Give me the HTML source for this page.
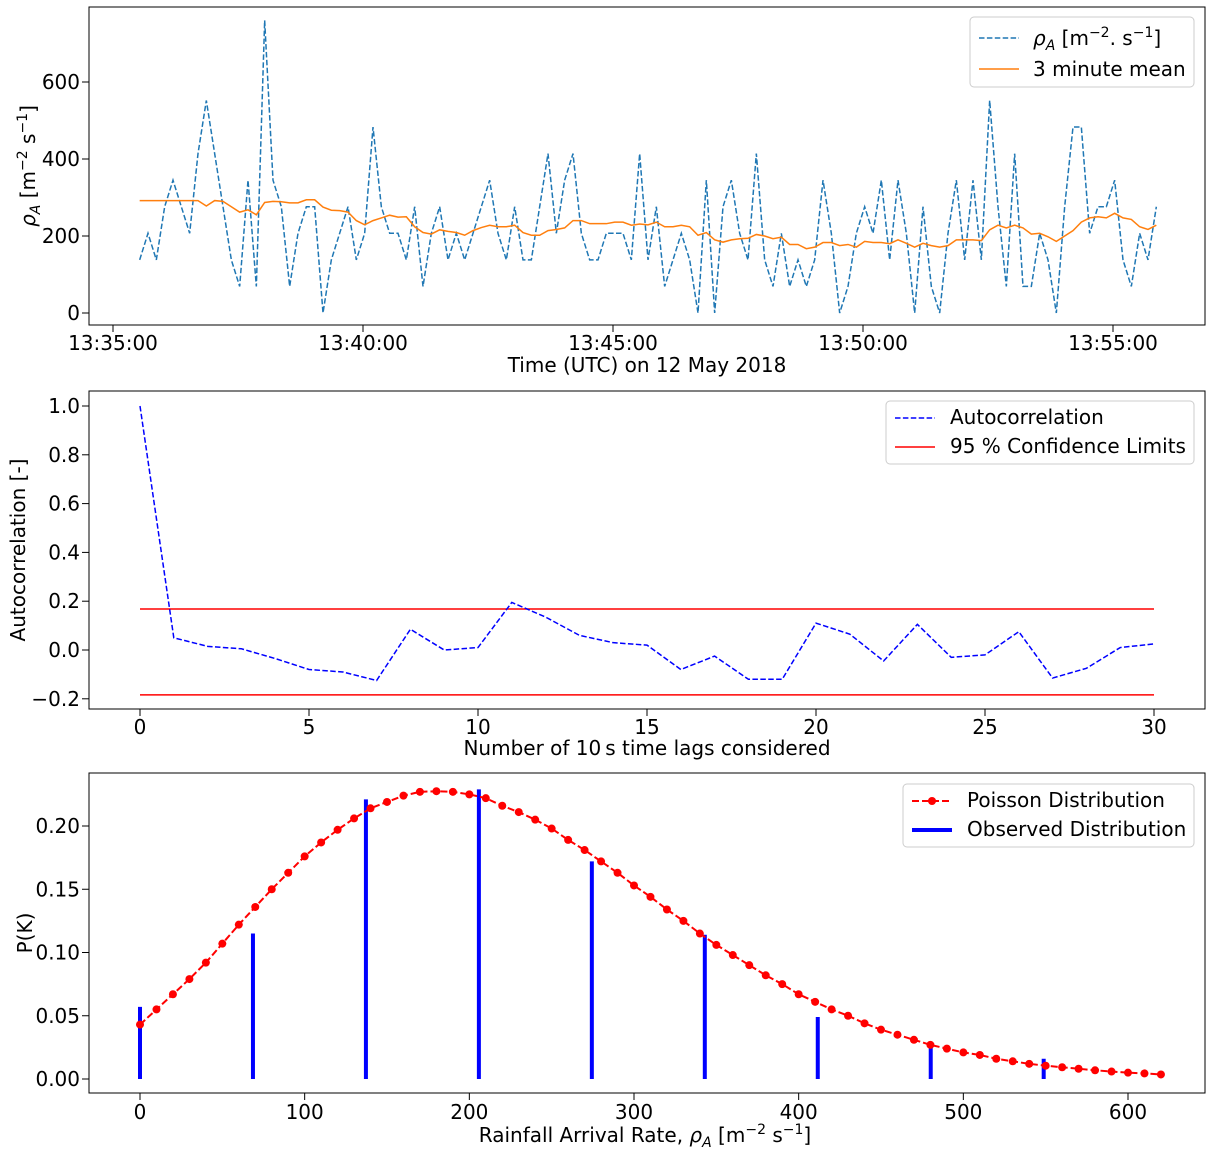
<!DOCTYPE html>
<html><head><meta charset="utf-8"><style>
html,body{margin:0;padding:0;background:#fff;}
svg{display:block;font-family:"DejaVu Sans","Liberation Sans",sans-serif;}
text{fill:#000;}
</style></head><body>
<svg id="fig" width="1217" height="1154" viewBox="0 0 1217 1154" xmlns="http://www.w3.org/2000/svg"></svg>
<script>
// ---- Panel 1 data ----
const rateValues = [138,207,138,276,345,276,207,414,552,414,276,138,69,345,69,760,345,276,69,207,276,276,0,138,207,276,138,207,483,276,
207,207,138,276,69,207,276,138,207,138,207,276,345,207,138,276,138,138,276,414,207,345,414,207,138,138,207,207,207,138,414,138,
276,69,138,207,138,0,345,0,276,345,207,138,414,138,69,207,69,138,69,138,345,207,0,69,207,276,207,345,138,
345,207,0,276,69,0,207,345,138,345,138,552,276,69,414,69,69,207,138,0,276,483,483,207,276,276,345,138,69,207,138,276];
const meanValues = [292,292,292,292,292,292,292,292,278,292,290,276,262,268,255,287,290,289,286,286,294,294,275,267,266,262,240,229,240,247,254,249,
250,224,209,205,216,212,209,202,214,222,228,224,224,228,209,202,202,214,217,221,240,240,232,232,232,236,236,228,231,229,
236,224,224,228,224,202,209,190,184,190,193,194,204,200,193,197,178,178,167,171,183,183,175,178,171,186,183,183,
180,190,181,171,181,175,171,175,190,190,190,188,216,228,221,228,221,205,207,198,186,200,214,236,247,250,247,259,247,243,224,217,228];
const startOffsetSec = 32;
const timeStepSec = 10;
const timeTickLabels = ["13:35:00","13:40:00","13:45:00","13:50:00","13:55:00"];
const timeTickSec = [0,300,600,900,1200];
const rateTicks = [0,200,400,600];
// ---- Panel 2 data ----
const acfValues = [1.0,0.05,0.015,0.005,-0.035,-0.08,-0.09,-0.125,0.085,0.0,0.01,0.195,0.135,0.06,0.03,0.02,-0.08,-0.025,-0.12,-0.12,0.11,0.065,-0.045,0.105,-0.03,-0.02,0.075,-0.115,-0.075,0.01,0.025];
const confUpper = 0.168;
const confLower = -0.184;
const lagTicks = [0,5,10,15,20,25,30];
const acfTicks = [-0.2,0,0.2,0.4,0.6,0.8,1.0];
// ---- Panel 3 data ----
const poissonX = [0,10,20,30,40,50,60,70,80,90,100,110,120,130,140,150,160,170,180,190,200,210,220,230,240,250,260,270,280,290,300,310,320,330,340,350,360,370,380,390,400,410,420,430,440,450,460,470,480,490,500,510,520,530,540,550,560,570,580,590,600,610,620];
const poissonP = [.043,.055,.067,.079,.092,.107,.122,.136,.150,.163,.176,.187,.197,.206,.214,.219,.224,.227,.2275,.227,.225,.222,.216,.211,.205,.198,.189,.181,.172,.163,.153,.144,.134,.125,.115,.106,.098,.090,.082,.075,.067,.061,.055,.050,.044,.039,.035,.031,.027,.024,.021,.019,.016,.014,.012,.0105,.0093,.0081,.0069,.0059,.0050,.0044,.0036];
const observedX = [0,68.6,137.2,205.8,274.4,343,411.6,480.2,548.8];
const observedP = [0.057,0.115,0.221,0.229,0.172,0.114,0.049,0.026,0.016];
const rateAxisTicks = [0,100,200,300,400,500,600];
const probTicks = [0,0.05,0.10,0.15,0.20];

const NS="http://www.w3.org/2000/svg";
const svg=document.getElementById('fig');
function el(tag,attrs,parent){const e=document.createElementNS(NS,tag);for(const k in attrs)e.setAttribute(k,attrs[k]);(parent||svg).appendChild(e);return e;}
function txt(s,x,y,anchor,parent){const t=el('text',{x:x,y:y,'text-anchor':anchor||'middle','font-size':'20'},parent);t.textContent=s;return t;}

function frame(g,x0,y0,x1,y1){const r=el('rect',{x:x0,y:y0,width:x1-x0,height:y1-y0,fill:'none',stroke:'#000','stroke-width':1},g);

}

// ===== Panel 1 =====
const g1=el('g',{});


const X1=s=>113+s*(1000/1200), Y1=v=>313-v*0.385;
frame(g1,89,7,1205,325);
const g1x=el('g',{},g1);


timeTickSec.forEach((s,i)=>{el('line',{x1:X1(s),x2:X1(s),y1:325,y2:332,stroke:'#000'},g1x);const t=txt(timeTickLabels[i],X1(s),350,'middle',g1x);

});
const g1y=el('g',{},g1);


rateTicks.forEach(v=>{el('line',{x1:82,x2:89,y1:Y1(v),y2:Y1(v),stroke:'#000'},g1y);const t=txt(String(v),80,Y1(v)+7,'end',g1y);

});
let t1=txt('Time (UTC) on 12 May 2018',647,372,'middle',g1);


let yl1=el('text',{transform:'translate(35,166) rotate(-90)','text-anchor':'middle','font-size':'20'},g1);
yl1.innerHTML='<tspan font-style="italic">ρ</tspan><tspan font-style="italic" font-size="14" dy="5">A</tspan><tspan dy="-5"> [m</tspan><tspan font-size="14" dy="-8">−2</tspan><tspan dy="8"> s</tspan><tspan font-size="14" dy="-8">−1</tspan><tspan dy="8">]</tspan>';


const p1=el('polyline',{points:rateValues.map((v,i)=>X1(startOffsetSec+i*timeStepSec)+','+Y1(v)).join(' '),fill:'none',stroke:'#1f77b4','stroke-width':1.5,'stroke-dasharray':'5.5,2.4'},g1);


const p2=el('polyline',{points:meanValues.map((v,i)=>X1(startOffsetSec+i*timeStepSec)+','+Y1(v)).join(' '),fill:'none',stroke:'#ff7f0e','stroke-width':1.5},g1);


const lg1=el('g',{},g1);


el('rect',{x:970,y:17,width:224,height:70,rx:4,fill:'#fff','fill-opacity':0.8,stroke:'#ccc'},lg1);
el('line',{x1:979,x2:1019,y1:38,y2:38,stroke:'#1f77b4','stroke-width':1.5,'stroke-dasharray':'5.5,2.4'},lg1);
const le1=el('text',{x:1033,y:45,'font-size':'20'},lg1);
le1.innerHTML='<tspan font-style="italic">ρ</tspan><tspan font-style="italic" font-size="14" dy="5">A</tspan><tspan dy="-5"> [m</tspan><tspan font-size="14" dy="-8">−2</tspan><tspan dy="8">. s</tspan><tspan font-size="14" dy="-8">−1</tspan><tspan dy="8">]</tspan>';


el('line',{x1:979,x2:1019,y1:69,y2:69,stroke:'#ff7f0e','stroke-width':1.5},lg1);
const le2=txt('3 minute mean',1033,76,'start',lg1);



// ===== Panel 2 =====
const g2=el('g',{});


const X2=l=>140+l*(1014/30), Y2=v=>650-v*244;
frame(g2,89,391,1205,709);
lagTicks.forEach(l=>{el('line',{x1:X2(l),x2:X2(l),y1:709,y2:716,stroke:'#000'},g2);const t=txt(String(l),X2(l),734,'middle',g2);

});
acfTicks.forEach(v=>{el('line',{x1:82,x2:89,y1:Y2(v),y2:Y2(v),stroke:'#000'},g2);const t=txt((v<0?'−':'')+Math.abs(v).toFixed(1),80,Y2(v)+7,'end',g2);

});
let t2=txt('Number of 10\u2009s time lags considered',647,755,'middle',g2);


let yl2=el('text',{transform:'translate(25,550) rotate(-90)','text-anchor':'middle','font-size':'20'},g2);
yl2.textContent='Autocorrelation [-]';


const cu=el('line',{x1:X2(0),x2:X2(30),y1:Y2(confUpper),y2:Y2(confUpper),stroke:'#ff0000','stroke-width':1.5},g2);


const cl=el('line',{x1:X2(0),x2:X2(30),y1:Y2(confLower),y2:Y2(confLower),stroke:'#ff0000','stroke-width':1.5},g2);


const ac=el('polyline',{points:acfValues.map((v,i)=>X2(i)+','+Y2(v)).join(' '),fill:'none',stroke:'#0000ff','stroke-width':1.5,'stroke-dasharray':'5.5,2.4'},g2);


const lg2=el('g',{},g2);


el('rect',{x:886,y:401,width:308,height:63,rx:4,fill:'#fff','fill-opacity':0.8,stroke:'#ccc'},lg2);
el('line',{x1:895,x2:935,y1:418,y2:418,stroke:'#0000ff','stroke-width':1.5,'stroke-dasharray':'5.5,2.4'},lg2);
const le3=txt('Autocorrelation',950,424,'start',lg2);


el('line',{x1:895,x2:935,y1:447,y2:447,stroke:'#ff0000','stroke-width':1.5},lg2);
const le4=txt('95 % Confidence Limits',950,453,'start',lg2);



// ===== Panel 3 =====
const g3=el('g',{});


const X3=r=>140+r*(988/600), Y3=p=>1079-p*1265;
frame(g3,89,773,1205,1093);
rateAxisTicks.forEach(r=>{el('line',{x1:X3(r),x2:X3(r),y1:1093,y2:1100,stroke:'#000'},g3);const t=txt(String(r),X3(r),1119,'middle',g3);

});
probTicks.forEach(p=>{el('line',{x1:82,x2:89,y1:Y3(p),y2:Y3(p),stroke:'#000'},g3);const t=txt(p.toFixed(2),80,Y3(p)+7,'end',g3);

});
let xl3=el('text',{x:645,y:1142,'text-anchor':'middle','font-size':'20'},g3);
xl3.innerHTML='Rainfall Arrival Rate, <tspan font-style="italic">ρ</tspan><tspan font-style="italic" font-size="14" dy="5">A</tspan><tspan dy="-5"> [m</tspan><tspan font-size="14" dy="-8">−2</tspan><tspan dy="8"> s</tspan><tspan font-size="14" dy="-8">−1</tspan><tspan dy="8">]</tspan>';


let yl3=el('text',{transform:'translate(32,933) rotate(-90)','text-anchor':'middle','font-size':'20'},g3);
yl3.textContent='P(K)';


observedX.forEach((r,i)=>{const b=el('line',{x1:X3(r),x2:X3(r),y1:Y3(0),y2:Y3(observedP[i]),stroke:'#0000ff','stroke-width':4},g3);

});
const pl=el('polyline',{points:poissonX.map((r,i)=>X3(r)+','+Y3(poissonP[i])).join(' '),fill:'none',stroke:'#ff0000','stroke-width':2,'stroke-dasharray':'7,3'},g3);


poissonX.forEach((r,i)=>{const c=el('circle',{cx:X3(r),cy:Y3(poissonP[i]),r:4,fill:'#ff0000'},g3);

});
const lg3=el('g',{},g3);


el('rect',{x:903,y:784,width:291,height:63,rx:4,fill:'#fff','fill-opacity':0.8,stroke:'#ccc'},lg3);
el('line',{x1:912,x2:952,y1:801,y2:801,stroke:'#ff0000','stroke-width':2,'stroke-dasharray':'7,3'},lg3);
el('circle',{cx:932,cy:801,r:4,fill:'#ff0000'},lg3);
const le5=txt('Poisson Distribution',967,807,'start',lg3);


el('line',{x1:912,x2:952,y1:830,y2:830,stroke:'#0000ff','stroke-width':4},lg3);
const le6=txt('Observed Distribution',967,836,'start',lg3);


</script>
</body></html>
